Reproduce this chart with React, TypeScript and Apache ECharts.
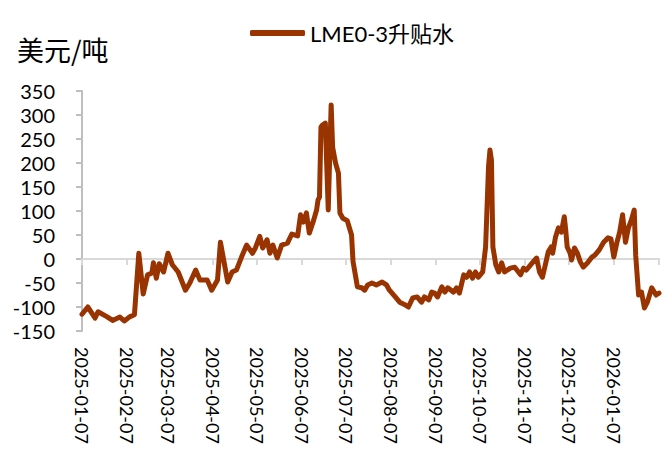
import React, { useEffect, useRef } from 'react';
import * as echarts from 'echarts';

const seriesName = 'LME0-3升贴水';
const unitLabel = '美元/吨';

const dates = [
  '2025-01-07', '2025-01-11', '2025-01-16', '2025-01-18', '2025-01-24', '2025-01-28',
  '2025-02-02', '2025-02-05', '2025-02-09', '2025-02-12', '2025-02-15', '2025-02-18',
  '2025-02-21', '2025-02-24', '2025-02-25', '2025-02-27', '2025-03-01', '2025-03-04',
  '2025-03-07', '2025-03-10', '2025-03-14', '2025-03-19', '2025-03-22', '2025-03-26',
  '2025-03-29', '2025-04-03', '2025-04-06', '2025-04-10', '2025-04-12', '2025-04-17',
  '2025-04-20', '2025-04-23', '2025-04-27', '2025-04-30', '2025-05-04', '2025-05-06',
  '2025-05-09', '2025-05-11', '2025-05-14', '2025-05-16', '2025-05-18', '2025-05-21',
  '2025-05-24', '2025-05-28', '2025-05-31', '2025-06-04', '2025-06-06', '2025-06-08',
  '2025-06-10', '2025-06-12', '2025-06-15', '2025-06-17', '2025-06-18', '2025-06-19',
  '2025-06-20', '2025-06-21', '2025-06-23', '2025-06-25', '2025-06-27', '2025-06-28',
  '2025-06-30', '2025-07-02', '2025-07-03', '2025-07-05', '2025-07-08', '2025-07-11',
  '2025-07-12', '2025-07-14', '2025-07-15', '2025-07-18', '2025-07-20', '2025-07-22',
  '2025-07-25', '2025-07-28', '2025-08-01', '2025-08-04', '2025-08-06', '2025-08-10',
  '2025-08-13', '2025-08-17', '2025-08-19', '2025-08-22', '2025-08-25', '2025-08-28',
  '2025-08-30', '2025-09-02', '2025-09-04', '2025-09-06', '2025-09-08', '2025-09-11',
  '2025-09-13', '2025-09-15', '2025-09-19', '2025-09-21', '2025-09-23', '2025-09-26',
  '2025-09-28', '2025-09-30', '2025-10-02', '2025-10-04', '2025-10-06', '2025-10-09',
  '2025-10-11', '2025-10-13', '2025-10-14', '2025-10-15', '2025-10-16', '2025-10-18',
  '2025-10-20', '2025-10-22', '2025-10-24', '2025-10-28', '2025-10-31', '2025-11-04',
  '2025-11-06', '2025-11-08', '2025-11-12', '2025-11-15', '2025-11-17', '2025-11-19',
  '2025-11-21', '2025-11-23', '2025-11-25', '2025-11-26', '2025-11-28', '2025-11-30',
  '2025-12-02', '2025-12-04', '2025-12-05', '2025-12-06', '2025-12-08', '2025-12-09',
  '2025-12-11', '2025-12-13', '2025-12-15', '2025-12-17', '2025-12-20', '2025-12-23',
  '2025-12-25', '2025-12-28', '2025-12-31', '2026-01-03', '2026-01-05', '2026-01-07',
  '2026-01-09', '2026-01-11', '2026-01-13', '2026-01-15', '2026-01-17', '2026-01-19',
  '2026-01-21', '2026-01-22', '2026-01-24', '2026-01-26', '2026-01-28', '2026-01-30',
  '2026-02-02', '2026-02-05', '2026-02-07',
];

const values = [
  -115, -100, -123, -110, -120, -128,
  -121, -129, -120, -116, 12, -73,
  -33, -29, -8, -40, -10, -27,
  12, -12, -27, -65, -50, -23,
  -44, -44, -65, -44, 35, -48,
  -27, -23, 8, 29, 12, 23,
  47, 23, 40, 12, 29, 2,
  29, 33, 52, 48, 92, 77,
  96, 54, 81, 102, 123, 129,
  275, 279, 283, 102, 321, 233,
  200, 179, 96, 85, 80, 50,
  -5, -40, -58, -60, -65, -54,
  -50, -54, -48, -54, -65, -79,
  -90, -96, -100, -81, -79, -90,
  -79, -85, -69, -71, -79, -58,
  -69, -60, -69, -60, -71, -33,
  -38, -27, -40, -27, -38, -27,
  25, 192, 227, 206, 25, -12,
  -27, -8, -27, -19, -17, -33,
  -19, -23, -8, 2, -27, -38,
  -12, 15, 25, 12, 46, 65,
  56, 88, 60, 25, 12, -2,
  23, 12, -6, -17, -8, 4,
  8, 19, 35, 44, 42, 4,
  33, 56, 92, 35, 65, 81,
  102, 8, -75, -69, -102, -90,
  -60, -75, -71,
];

// Monthly tick marks along the zero line; the last one closes the axis
const tickDates = [
  '2025-01-07', '2025-02-07', '2025-03-07', '2025-04-07', '2025-05-07', '2025-06-07',
  '2025-07-07', '2025-08-07', '2025-09-07', '2025-10-07', '2025-11-07', '2025-12-07',
  '2026-01-07', '2026-02-07',
];
// Dates printed under the plot
const labelDates = tickDates.slice(0, 13);

const yMin = -150;
const yMax = 350;
const yStep = 50;

const LINE_COLOR = '#993300';
const LATIN = 'Lato, "Noto Sans CJK SC", sans-serif';

function toTime(s: string): number {
  const [y, m, d] = s.split('-').map(Number);
  return new Date(y, m - 1, d).getTime();
}

function fmt(v: number): string {
  const d = new Date(v);
  const p = (n: number) => (n < 10 ? '0' + n : '' + n);
  return `${d.getFullYear()}-${p(d.getMonth() + 1)}-${p(d.getDate())}`;
}

export default function App() {
  const ref = useRef<HTMLDivElement>(null);

  useEffect(() => {
    document.body.style.margin = '0';
    if (!ref.current) return;
    const chart = echarts.init(ref.current, null, { renderer: 'svg' });
    const xStart = toTime(tickDates[0]);
    const xEnd = toTime(tickDates[tickDates.length - 1]);

    chart.setOption({
      animation: false,
      backgroundColor: '#ffffff',
      title: {
        text: unitLabel,
        left: 12,
        top: 31,
        textStyle: {
          fontSize: 27,
          fontWeight: 'normal',
          color: '#000000',
          fontFamily: '"Noto Sans CJK SC", sans-serif',
        },
      },
      legend: {
        data: [seriesName],
        left: 245,
        top: 17,
        icon: 'roundRect',
        itemWidth: 55,
        itemHeight: 6,
        itemStyle: { color: LINE_COLOR },
        textStyle: { fontSize: 22, color: '#000000', fontFamily: LATIN },
      },
      grid: {
        left: 82,
        right: 13,
        top: 91,
        bottom: 127,
        containLabel: false,
        outerBoundsMode: 'none',
      },
      xAxis: [
        {
          // dates as millisecond timestamps on a linear scale
          type: 'value',
          position: 'bottom',
          min: xStart,
          max: xEnd,
          axisLine: { show: false, onZero: false },
          axisTick: { show: false },
          splitLine: { show: false },
          axisLabel: {
            customValues: labelDates.map(toTime),
            formatter: (v: number) => fmt(v),
            rotate: -90,
            margin: 16,
            fontSize: 18,
            color: '#000000',
            fontFamily: LATIN,
            hideOverlap: false,
          },
        },
        {
          type: 'value',
          position: 'bottom',
          min: xStart,
          max: xEnd,
          axisLine: { show: true, onZero: true, lineStyle: { color: '#D9D9D9', width: 2 } },
          axisTick: {
            show: true,
            customValues: tickDates.map(toTime),
            length: 6,
            lineStyle: { color: '#D9D9D9', width: 2 },
          },
          axisLabel: { show: false },
          splitLine: { show: false },
        },
      ],
      yAxis: {
        type: 'value',
        min: yMin,
        max: yMax,
        interval: yStep,
        axisLine: { show: true, onZero: false, lineStyle: { color: '#BFBFBF', width: 2 } },
        axisTick: { show: true, length: 6, lineStyle: { color: '#BFBFBF', width: 2 } },
        splitLine: { show: false },
        axisLabel: {
          margin: 27,
          fontSize: 20,
          color: '#000000',
          fontFamily: LATIN,
        },
      },
      series: [
        {
          name: seriesName,
          type: 'line',
          xAxisIndex: 0,
          symbol: 'none',
          showSymbol: false,
          data: dates.map((d, i) => [toTime(d), values[i]]),
          lineStyle: { color: LINE_COLOR, width: 5, join: 'round', cap: 'round' },
          itemStyle: { color: LINE_COLOR },
        },
      ],
    });

    return () => chart.dispose();
  }, []);

  return (
    <div
      ref={ref}
      style={{ position: 'absolute', left: 0, top: 0, width: 672, height: 458 }}
    />
  );
}
